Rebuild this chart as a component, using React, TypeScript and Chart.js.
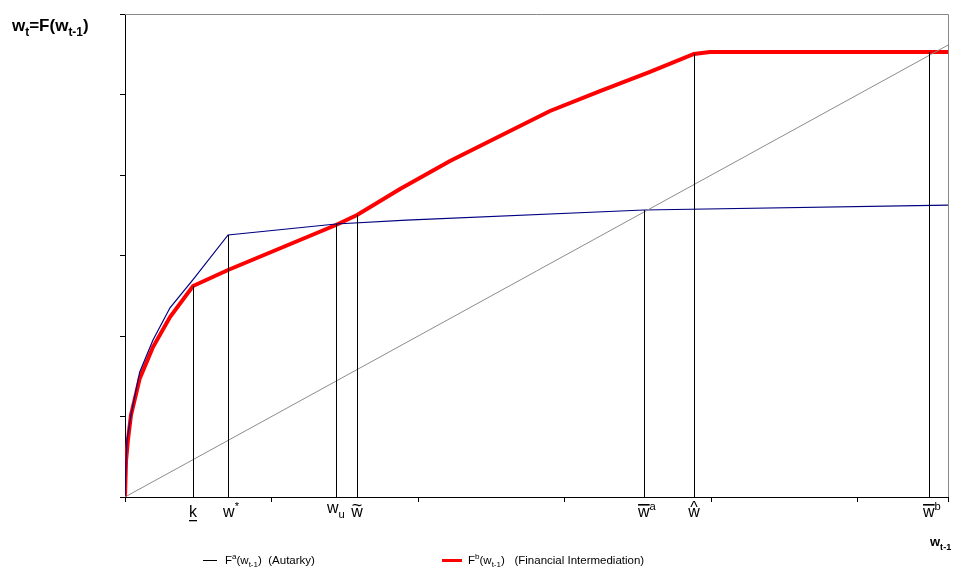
import { useEffect, useRef } from 'react';
import Chart from 'chart.js/auto';

const AUTARKY_X = [0, 0.007, 0.014, 0.041, 0.1, 0.191, 0.307, 0.464, 0.703, 1.439, 1.92, 3.54, 5.614];
const AUTARKY_Y = [0, 0.45, 0.708, 1.019, 1.55, 1.95, 2.35, 2.7, 3.255, 3.391, 3.44, 3.565, 3.627];
const FIN_X = [0, 0.007, 0.02, 0.041, 0.1, 0.191, 0.307, 0.464, 0.703, 1.439, 1.583, 1.876, 2.217, 2.558, 2.899, 3.24, 3.581, 3.881, 3.99, 5.614];
const FIN_Y = [0, 0.45, 0.708, 1.019, 1.47, 1.863, 2.236, 2.621, 2.82, 3.379, 3.503, 3.826, 4.174, 4.484, 4.795, 5.043, 5.28, 5.503, 5.528, 5.528];
const DIAG_X = [0, 5.614];

// vertical drop lines: [x, top y]
const DROP_X = [0.464, 0.703, 1.439, 1.583, 3.54, 3.881, 5.484];
const DROP_Y = [2.621, 3.255, 3.391, 3.503, 3.565, 5.503, 5.528];
const DROP_LABELS = ['k', 'w*', 'wu', 'w~', 'wa', 'w^', 'wb'];

type Part = { t: string; sub?: boolean; sup?: boolean };

function richWidth(ctx: CanvasRenderingContext2D, parts: Part[], size: number, bold: boolean) {
  let w = 0;
  for (const p of parts) {
    const s = p.sub || p.sup ? size * 0.7 : size;
    ctx.font = `${bold ? 'bold ' : ''}${s}px "Liberation Sans", Arial, sans-serif`;
    w += ctx.measureText(p.t).width;
  }
  return w;
}

function drawRich(ctx: CanvasRenderingContext2D, x: number, y: number, parts: Part[], size: number, bold = false, align: 'left' | 'center' = 'left') {
  let cx = align === 'center' ? x - richWidth(ctx, parts, size, bold) / 2 : x;
  ctx.textBaseline = 'alphabetic';
  ctx.textAlign = 'left';
  for (const p of parts) {
    const s = p.sub || p.sup ? size * 0.7 : size;
    ctx.font = `${bold ? 'bold ' : ''}${s}px "Liberation Sans", Arial, sans-serif`;
    const dy = p.sub ? size * 0.3 : p.sup ? -size * 0.45 : 0;
    ctx.fillText(p.t, cx, y + dy);
    cx += ctx.measureText(p.t).width;
  }
}

const decorPlugin = {
  id: 'decor',
  afterDraw(chart: Chart) {
    const { ctx, chartArea: a, scales } = chart;
    const xs = scales.x;
    const ys = scales.y;
    ctx.save();
    // frame
    ctx.strokeStyle = '#888';
    ctx.lineWidth = 1;
    ctx.beginPath();
    ctx.moveTo(a.left, a.top + 0.5);
    ctx.lineTo(a.right + 0.5, a.top + 0.5);
    ctx.lineTo(a.right + 0.5, a.bottom);
    ctx.stroke();
    // drop lines
    ctx.strokeStyle = '#000';
    DROP_X.forEach((v, i) => {
      const px = Math.round(xs.getPixelForValue(v)) + 0.5;
      ctx.beginPath();
      ctx.moveTo(px, ys.getPixelForValue(DROP_Y[i]));
      ctx.lineTo(px, a.bottom);
      ctx.stroke();
    });
    // x labels
    ctx.fillStyle = '#000';
    const base = a.bottom + 20;
    const size = 16;
    DROP_LABELS.forEach((lab, i) => {
      const px = xs.getPixelForValue(DROP_X[i]);
      ctx.font = `${size}px "Liberation Sans", Arial, sans-serif`;
      const ww = ctx.measureText('w').width;
      if (lab === 'k') {
        drawRich(ctx, px, base, [{ t: 'k' }], size, false, 'center');
        ctx.fillRect(px - 4, base + 3, 8, 1.3);
      } else if (lab === 'w*') {
        drawRich(ctx, px + 3, base, [{ t: 'w' }, { t: '*', sup: true }], size, false, 'center');
      } else if (lab === 'wu') {
        drawRich(ctx, px, base - 4, [{ t: 'w' }, { t: 'u', sub: true }], size, false, 'center');
      } else if (lab === 'w~') {
        drawRich(ctx, px, base, [{ t: 'w' }], size, false, 'center');
        drawRich(ctx, px, base - 6, [{ t: '~' }], size + 2, false, 'center');
      } else if (lab === 'w^') {
        drawRich(ctx, px, base, [{ t: 'w' }], size, false, 'center');
        drawRich(ctx, px, base - 4, [{ t: '^' }], size, false, 'center');
      } else {
        const sup = lab === 'wa' ? 'a' : 'b';
        drawRich(ctx, px + 3, base, [{ t: 'w' }, { t: sup, sup: true }], size, false, 'center');
        const tw = richWidth(ctx, [{ t: 'w' }, { t: sup, sup: true }], size, false);
        ctx.fillRect(px + 3 - tw / 2, base - 13, ww, 1.6);
      }
    });
    // axis titles
    drawRich(ctx, 4, 23, [{ t: 'w' }, { t: 't', sub: true }, { t: '=F(w' }, { t: 't-1', sub: true }, { t: ')' }], 17, true);
    drawRich(ctx, a.right - 18, a.bottom + 49, [{ t: 'w' }, { t: 't-1', sub: true }], 13, true);
    // legend
    const ly = a.bottom + 67;
    ctx.fillStyle = '#000';
    ctx.fillRect(195, ly - 4, 14, 1);
    drawRich(ctx, 217, ly, [{ t: 'F' }, { t: 'a', sup: true }, { t: '(w' }, { t: 't-1', sub: true }, { t: ')  (Autarky)' }], 11.5);
    ctx.fillStyle = '#f00';
    ctx.fillRect(434, ly - 5, 20, 3);
    ctx.fillStyle = '#000';
    drawRich(ctx, 460, ly, [{ t: 'F' }, { t: 'b', sup: true }, { t: '(w' }, { t: 't-1', sub: true }, { t: ')   (Financial Intermediation)' }], 11.5);
    ctx.restore();
  },
};

export default function App() {
  const canvasRef = useRef<HTMLCanvasElement>(null);

  useEffect(() => {
    if (!canvasRef.current) return;
    const chart = new Chart(canvasRef.current, {
      type: 'line',
      data: {
        datasets: [
          {
            label: 'diag',
            data: DIAG_X.map((x) => ({ x, y: x })),
            borderColor: '#8c8c8c',
            borderWidth: 1,
            pointRadius: 0,
          },
          {
            label: 'Autarky',
            data: AUTARKY_X.map((x, i) => ({ x, y: AUTARKY_Y[i] })),
            borderColor: '#000080',
            borderWidth: 1.2,
            pointRadius: 0,
          },
          {
            label: 'Financial Intermediation',
            data: FIN_X.map((x, i) => ({ x, y: FIN_Y[i] })),
            borderColor: '#ff0000',
            borderWidth: 4,
            pointRadius: 0,
          },
        ],
      },
      plugins: [decorPlugin],
      options: {
        animation: false,
        responsive: true,
        maintainAspectRatio: false,
        layout: { padding: { left: 117, right: 10, top: 6, bottom: 72 } },
        plugins: { legend: { display: false }, tooltip: { enabled: false } },
        scales: {
          x: {
            type: 'linear',
            min: 0,
            max: 5.614,
            ticks: { stepSize: 1, display: false },
            grid: { drawOnChartArea: false, drawTicks: true, tickLength: 5, color: '#000' },
            border: { color: '#000' },
            afterFit: (s: any) => { s.height = 0; },
          },
          y: {
            min: 0,
            max: 6,
            ticks: { stepSize: 1, display: false },
            grid: { drawOnChartArea: false, drawTicks: true, tickLength: 5, color: '#000' },
            border: { color: '#000' },
            afterFit: (s: any) => { s.width = 0; },
          },
        },
      },
    });
    return () => chart.destroy();
  }, []);

  return (
    <div style={{ width: 950, height: 561, position: 'relative' }}>
      <canvas ref={canvasRef} />
    </div>
  );
}
